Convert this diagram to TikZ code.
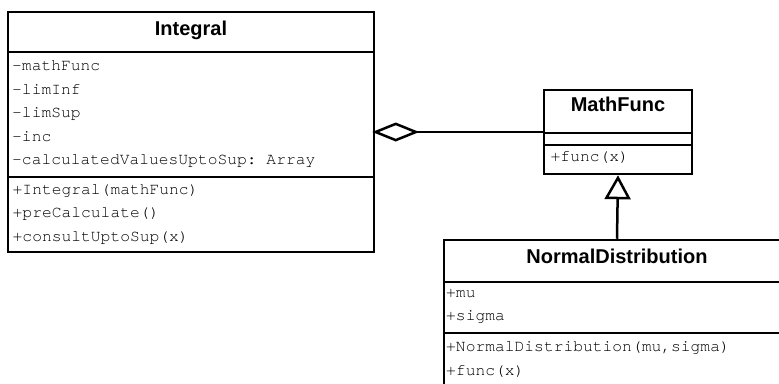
\documentclass[tikz,border=0pt]{standalone}
\usepackage{fontspec}
\setmainfont{Liberation Sans}
\setmonofont{TeX Gyre Cursor}
\usetikzlibrary{arrows.meta}
\tikzset{
  classbox/.style={draw, line width=2.5pt, rectangle, inner sep=0pt, fill=white},
  divider/.style={line width=2.5pt},
  classtitle/.style={font=\fontsize{20}{24}\selectfont\bfseries, anchor=base, inner sep=0pt},
  member/.style={font=\fontsize{16.3}{20}\selectfont\ttfamily, anchor=base west, inner sep=0pt},
  aggregation/.style={line width=2.5pt, {Diamond[open, length=47pt, width=19pt, line width=2.5pt]}-},
  generalization/.style={line width=2.5pt, -{Triangle[open, length=24pt, width=26pt, line width=2.5pt]}}
}
\begin{document}
\begin{tikzpicture}[x=1pt, y=-1pt]
  \useasboundingbox (0,0) rectangle (779,383);
  \clip (0,0) rectangle (779,383);
  \fill[white] (0,0) rectangle (779,383);

  % class Integral
  \node[classbox, minimum width=366pt, minimum height=240pt] (integral) at (191,132) {};
  \draw[divider] (8,52) -- (374,52);
  \draw[divider] (8,177) -- (374,177);
  \node[classtitle] (integralT) at (191,35) {Integral};
  \node[member] (i1) at (12,70.5) {-mathFunc};
  \node[member] (i2) at (12,94) {-limInf};
  \node[member] (i3) at (12,117.5) {-limSup};
  \node[member] (i4) at (12,141) {-inc};
  \node[member] (i5) at (12,164.5) {-calculatedValuesUptoSup: Array};
  \node[member] (i6) at (12.5,194) {+Integral(mathFunc)};
  \node[member] (i7) at (12.5,217.5) {+preCalculate()};
  \node[member] (i8) at (12.5,241) {+consultUptoSup(x)};

  % class MathFunc
  \node[classbox, minimum width=148pt, minimum height=84pt] (mathfunc) at (618,132) {};
  \draw[divider] (544,133) -- (692,133);
  \draw[divider] (544,145) -- (692,145);
  \node[classtitle] (mathfuncT) at (618,111.5) {MathFunc};
  \node[member] (m1) at (550.5,161) {+func(x)};

  % class NormalDistribution
  \node[classbox, minimum width=346pt, minimum height=160pt] (normal) at (617,320) {};
  \draw[divider] (444,282) -- (790,282);
  \draw[divider] (444,333) -- (790,333);
  \node[classtitle] (normalT) at (617,263) {NormalDistribution};
  \node[member] (n1) at (446,297) {+mu};
  \node[member] (n2) at (446,320.5) {+sigma};
  \node[member] (n3) at (446,351.5) {+NormalDistribution(mu,sigma)};
  \node[member] (n4) at (446,375) {+func(x)};

  % relations
  \coordinate[xshift=-3pt] (aggEnd) at (integral.east |- mathfunc.west);
  \draw[aggregation] (aggEnd) -- (mathfunc.west);
  \draw[generalization] (normal.north) -- (mathfunc.south);
\end{tikzpicture}
\end{document}
